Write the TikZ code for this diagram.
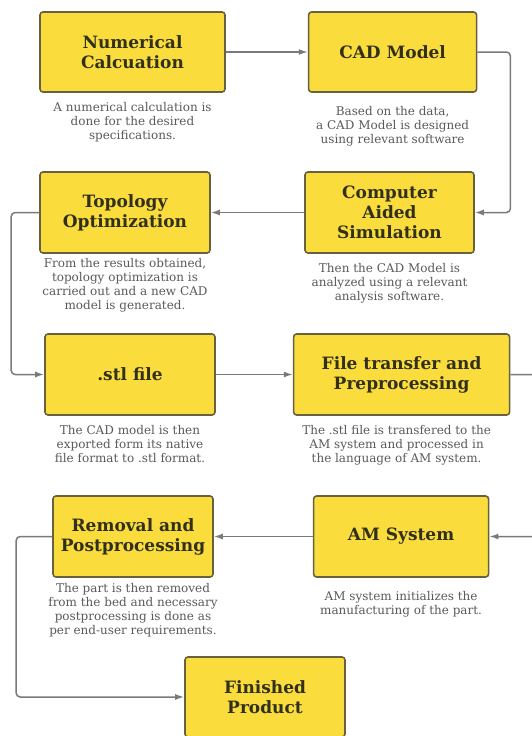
\documentclass[tikz,border=0pt]{standalone}
\usepackage{fontspec}
\setmainfont{DejaVu Serif}
\usetikzlibrary{positioning,arrows.meta}
\definecolor{boxyellow}{HTML}{FADC3C}
\definecolor{boxedge}{HTML}{67613F}
\definecolor{titletext}{HTML}{30301C}
\definecolor{notetext}{HTML}{5A5A5A}
\definecolor{linkgray}{HTML}{7A7A7A}

\begin{document}
\begin{tikzpicture}[x=1pt, y=1pt,
    stepbox/.style={draw=boxedge, line width=1.6pt, fill=boxyellow, rounded corners=3pt,
        minimum height=80pt, align=center, text=titletext,
        font=\fontsize{17}{20}\selectfont\bfseries},
    note/.style={align=center, text=notetext, font=\fontsize{12}{14}\selectfont, below=6pt of #1},
    link/.style={draw=linkgray, line width=1.5pt, rounded corners=4pt, -{Latex[length=9pt,width=6pt]}}]
    \useasboundingbox[fill=white] (0,0) rectangle (532,-736);

    % Design stage
    \node[stepbox, minimum width=185pt] (numcalc) at (132.5,-52) {Numerical\\Calcuation};
    \node[stepbox, minimum width=168pt, right=82pt of numcalc] (cadmodel) {CAD Model};
    \node[stepbox, minimum width=169pt, minimum height=81pt] (cas) at (389.5,-212.5) {Computer\\Aided\\Simulation};
    \node[stepbox, minimum width=170pt, minimum height=81pt] (topo) at (125,-212.5) {Topology\\Optimization};

    % Printing stage
    \node[stepbox, minimum width=170pt, minimum height=81pt] (stl) at (130,-374.5) {.stl file};
    \node[stepbox, minimum width=216pt, minimum height=81pt, right=77pt of stl] (ftp) {File transfer and\\Preprocessing};
    \node[stepbox, minimum width=160pt, minimum height=81pt] (removal) at (133,-536.5) {Removal and\\Postprocessing};
    \node[stepbox, minimum width=175pt, minimum height=81pt, right=99pt of removal] (amsys) {AM System};
    \node[stepbox, minimum width=160pt] (finished) at (265,-697) {Finished\\Product};

    % Notes
    \node[note=numcalc] (numcalcnote) {A numerical calculation is\\done for the desired\\specifications.};
    \node[note=cadmodel, below=10pt of cadmodel] (cadnote) {Based on the data,\\a CAD Model is designed\\using relevant software};
    \node[note=topo, below=1pt of topo] (toponote) {From the results obtained,\\topology optimization is\\carried out and a new CAD\\model is generated.};
    \node[note=cas] (casnote) {Then the CAD Model is\\analyzed using a relevant\\analysis software.};
    \node[note=stl] (stlnote) {The CAD model is then\\exported form its native\\file format to .stl format.};
    \node[note=ftp, xshift=-5pt] (ftpnote) {The .stl file is transfered to the\\AM system and processed in\\the language of AM system.};
    \node[note=removal, below=2pt of removal] (removalnote) {The part is then removed\\from the bed and necessary\\postprocessing is done as\\per end-user requirements.};
    \node[note=amsys, below=10pt of amsys] (amsysnote) {AM system initializes the\\manufacturing of the part.};

    % Flow
    \draw[link] (numcalc) -- (cadmodel);
    \draw[link] (cadmodel.east) -- ++(33,0) |- (cas.east);
    \draw[link] (cas) -- (topo);
    \draw[link] (topo.west) -- ++(-28,0) |- (stl.west);
    \draw[link] (stl) -- (ftp);
    \draw[link] (ftp.east) -- ++(40,0) |- (amsys.east);
    \draw[link] (amsys) -- (removal);
    \draw[link] (removal.west) -- ++(-36,0) |- (finished.west);
\end{tikzpicture}
\end{document}
